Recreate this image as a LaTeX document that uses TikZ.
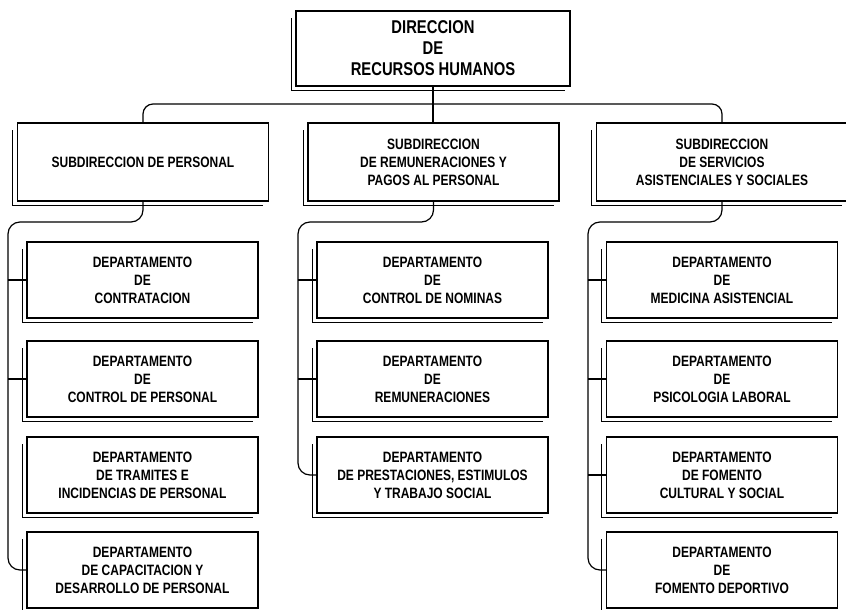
\documentclass[tikz,border=0pt]{standalone}
\usepackage{fontspec}
\usepackage{tikz}
\newfontfamily\chartfont[FakeStretch=0.8]{Liberation Sans}

\begin{document}
\begin{tikzpicture}[x=1pt, y=-1pt,
    unitbox/.style={draw, line width=1.3pt, inner sep=0pt, align=center,
      font=\chartfont\bfseries\fontsize{15}{18}\selectfont},
    topbox/.style={unitbox, minimum width=274pt, minimum height=75pt,
      font=\chartfont\bfseries\fontsize{18.5}{21}\selectfont},
    subbox/.style={unitbox, minimum width=251pt, minimum height=78pt},
    deptbox/.style={unitbox, minimum width=231pt, minimum height=76pt},
    link/.style={line width=1.2pt},
    shadowline/.style={line width=1pt}]
      \path[use as bounding box, fill=white] (0,0) rectangle (846,610);
      % direccion y subdirecciones
      \node[topbox] (dir) at (433,48.5) {DIRECCION\\DE\\RECURSOS HUMANOS};
      \node[subbox] (subpers) at (143,162) {SUBDIRECCION DE PERSONAL};
      \node[subbox] (subrem) at (433.5,162) {SUBDIRECCION\\DE REMUNERACIONES Y\\PAGOS AL PERSONAL};
      \node[subbox] (subserv) at (722,162) {SUBDIRECCION\\DE SERVICIOS\\ASISTENCIALES Y SOCIALES};
      % departamentos
      \node[deptbox] (cont) at (142.5,280) {DEPARTAMENTO\\DE\\CONTRATACION};
      \node[deptbox] (ctrl) at (142.5,379) {DEPARTAMENTO\\DE\\CONTROL DE PERSONAL};
      \node[deptbox] (tram) at (142.5,475) {DEPARTAMENTO\\DE TRAMITES E\\INCIDENCIAS DE PERSONAL};
      \node[deptbox] (capa) at (142.5,570) {DEPARTAMENTO\\DE CAPACITACION Y\\DESARROLLO DE PERSONAL};
      \node[deptbox] (nom) at (432.5,280) {DEPARTAMENTO\\DE\\CONTROL DE NOMINAS};
      \node[deptbox] (remu) at (432.5,379) {DEPARTAMENTO\\DE\\REMUNERACIONES};
      \node[deptbox] (pres) at (432.5,475) {DEPARTAMENTO\\DE PRESTACIONES, ESTIMULOS\\Y TRABAJO SOCIAL};
      \node[deptbox] (med) at (722,280) {DEPARTAMENTO\\DE\\MEDICINA ASISTENCIAL};
      \node[deptbox] (psic) at (722,379) {DEPARTAMENTO\\DE\\PSICOLOGIA LABORAL};
      \node[deptbox] (cult) at (722,475) {DEPARTAMENTO\\DE FOMENTO\\CULTURAL Y SOCIAL};
      \node[deptbox] (dep) at (722,570) {DEPARTAMENTO\\DE\\FOMENTO DEPORTIVO};
      % sombras
      \foreach \nd in {dir,subpers,subrem,subserv,cont,ctrl,tram,capa,nom,remu,pres,med,psic,cult,dep}
        \draw[shadowline] ([shift={(-4,8)}]\nd.north west) |- ([shift={(-6,4)}]\nd.south east);
      % conexiones
      \coordinate (bus) at (433,104);
      \draw[link] (dir.south) -- (dir.south |- subrem.north);
      \draw[link, rounded corners=10] (subpers.north) |- (bus) -| (subserv.north);
      \coordinate (persbus) at (8,222);
      \coordinate (rembus) at (298,222);
      \coordinate (servbus) at (588,222);
      \draw[link, rounded corners=12] (subpers.south) |- (persbus) |- (capa.west);
      \draw[link, rounded corners=12] (subrem.south) |- (rembus) |- (pres.west);
      \draw[link, rounded corners=12] (subserv.south) |- (servbus) |- (dep.west);
      \foreach \nd in {cont,ctrl}
        \draw[link] (persbus |- \nd.west) -- (\nd.west);
      \foreach \nd in {nom,remu}
        \draw[link] (rembus |- \nd.west) -- (\nd.west);
      \foreach \nd in {med,psic,cult}
        \draw[link] (servbus |- \nd.west) -- (\nd.west);
\end{tikzpicture}
\end{document}
